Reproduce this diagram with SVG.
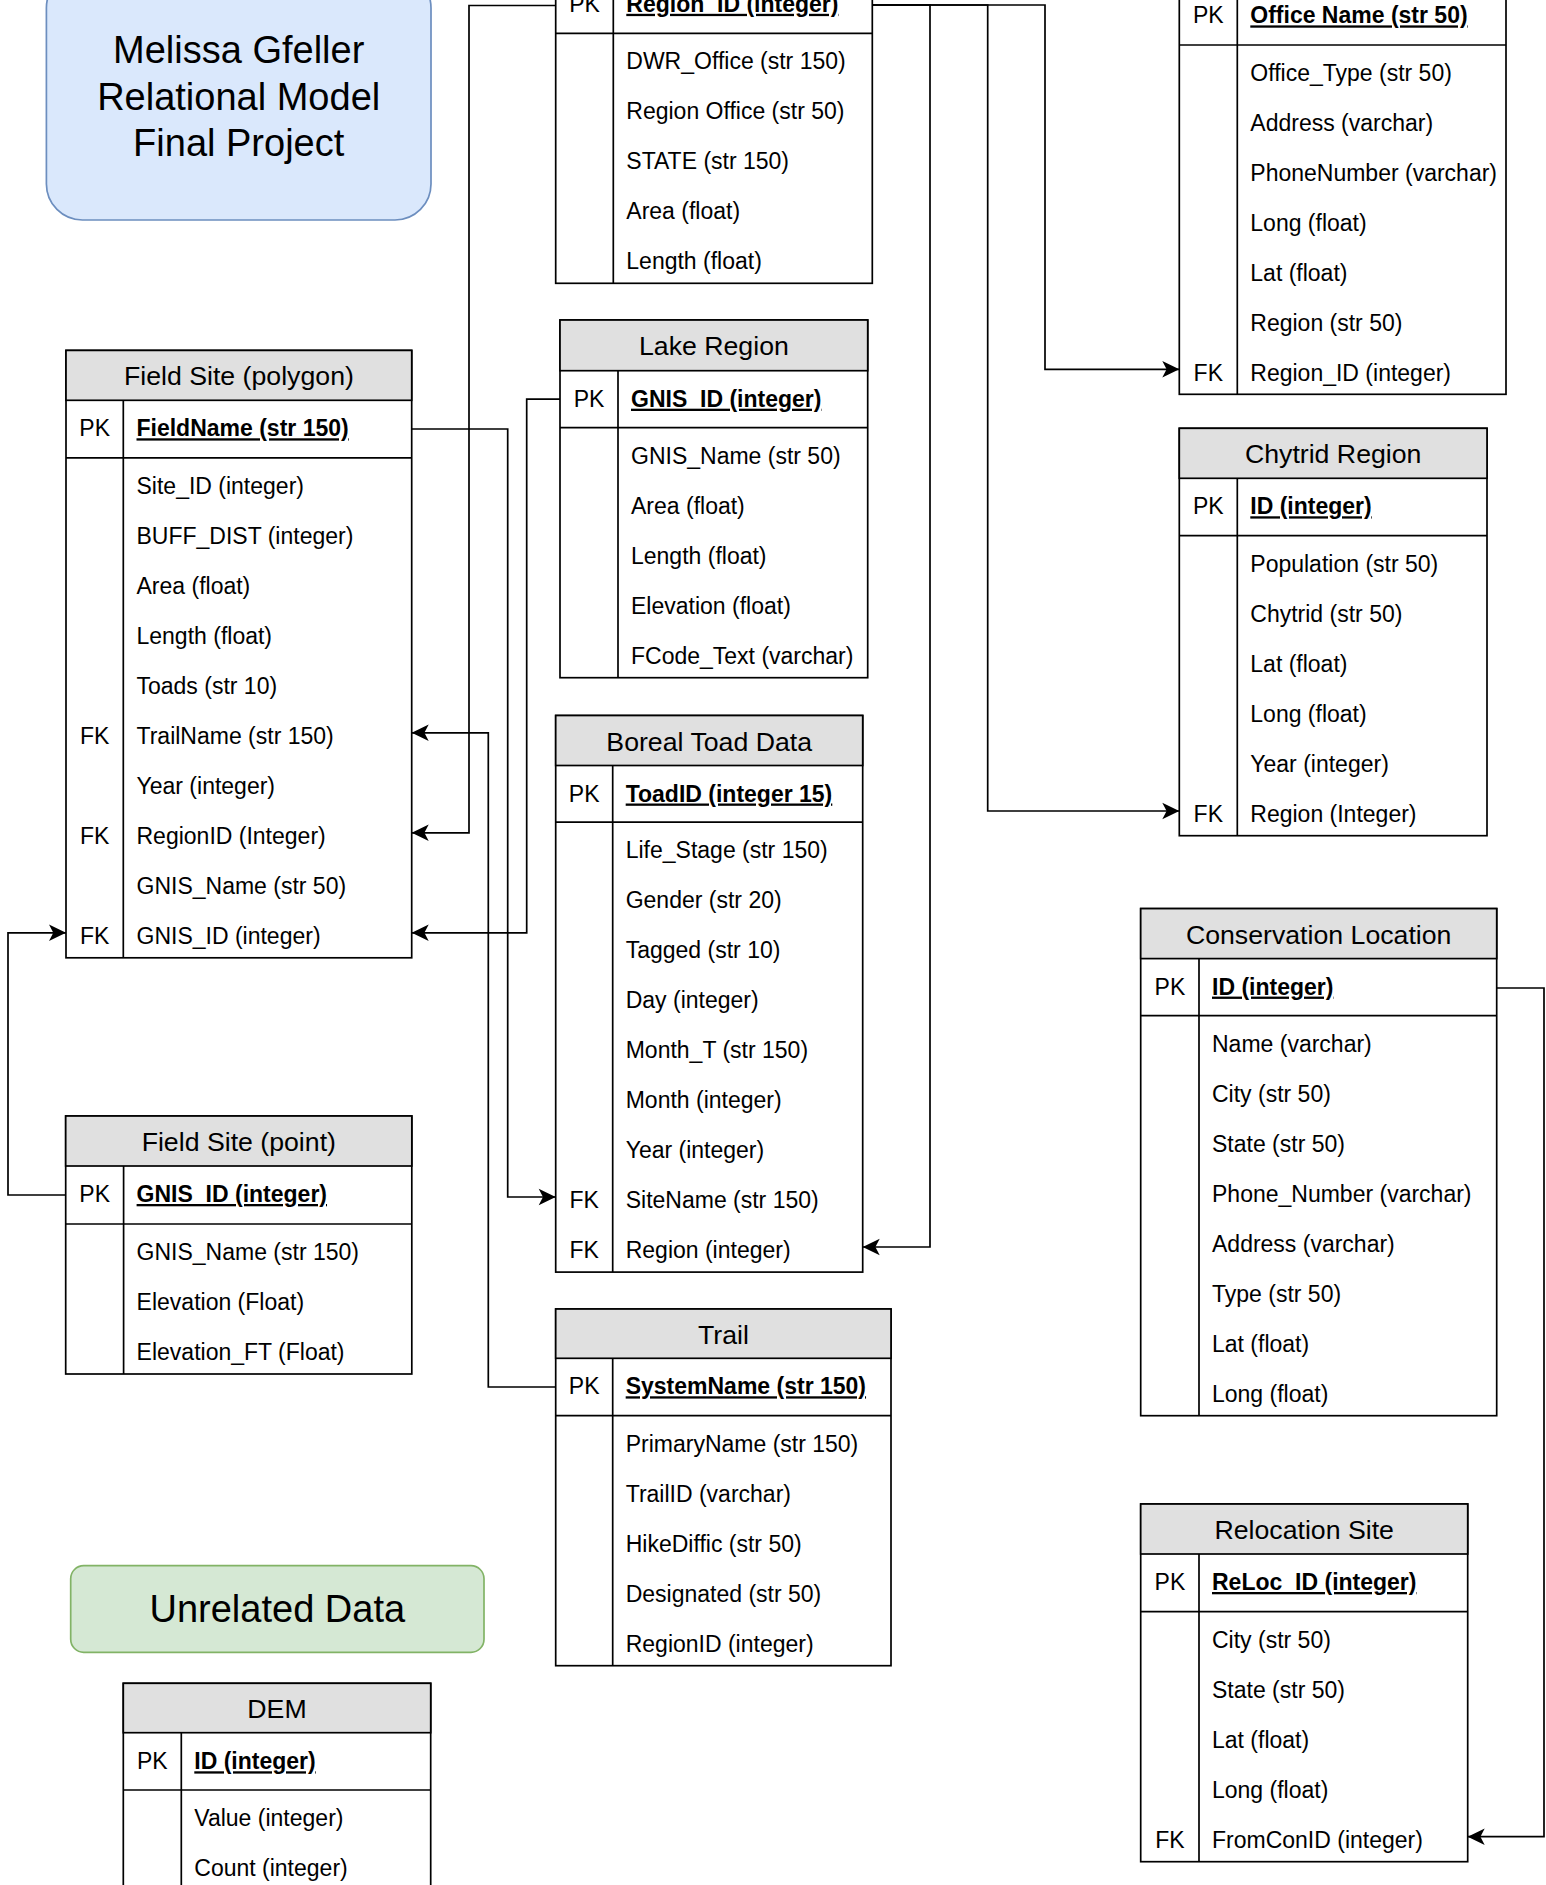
<svg xmlns="http://www.w3.org/2000/svg" width="1546" height="1885" viewBox="0 0 1546 1885">
<style>
text{font-family:"Liberation Sans",Arial,Helvetica,sans-serif;font-size:23px;fill:#000}
.h{font-size:26.7px;text-anchor:middle}
.big{font-size:38px;text-anchor:middle}
.pk{font-weight:bold;text-decoration:underline}
.k{text-anchor:middle}
.box{fill:#fff;stroke:#000;stroke-width:1.7}
.hd{fill:#e0e0e0;stroke:#000;stroke-width:1.7}
.ln{stroke:#000;stroke-width:1.7;fill:none}
.c{fill:none;stroke:#000;stroke-width:1.7;marker-end:url(#arr)}
</style>
<defs>
<marker id="arr" markerUnits="userSpaceOnUse" viewBox="-18 -10 20 20" refX="0" refY="0" markerWidth="20" markerHeight="20" orient="auto">
<path d="M0,0 L-17,-8.3 L-12.7,0 L-17,8.3 Z" fill="#000"/>
</marker>
</defs>

<g id="title">
<rect x="46.4" y="-28" width="384.6" height="248" rx="36" fill="#dae8fc" stroke="#6c8ebf" stroke-width="1.7"/>
<text class="big" x="238.7" y="63.3">Melissa Gfeller</text>
<text class="big" x="238.7" y="110">Relational Model</text>
<text class="big" x="238.7" y="156">Final Project</text>
</g>

<g id="unrelated">
<rect x="70.7" y="1565.7" width="413.3" height="86.6" rx="13" fill="#d5e8d4" stroke="#82b366" stroke-width="1.7"/>
<text class="big" x="277.3" y="1621.7">Unrelated Data</text>
</g>

<g id="connectors">
<path class="c" d="M555.7,5.5 H469 V832.8 H411.7"/>
<path class="c" d="M872.3,5 H1045 V369.3 H1179.3"/>
<path class="c" d="M872.3,5 H987.7 V811 H1179.3"/>
<path class="c" d="M872.3,5 H930 V1247 H862.7"/>
<path class="c" d="M560,399.2 H526.7 V932.8 H411.7"/>
<path class="c" d="M65.7,1195 H8 V932.8 H66"/>
<path class="c" d="M411.7,429 H507.7 V1197 H555.7"/>
<path class="c" d="M555.7,1387 H488.3 V732.8 H411.7"/>
<path class="c" d="M1496.7,988 H1544 V1836.7 H1467.7"/>
</g>

<g id="region">
<rect class="box" x="555.7" y="-74.2" width="316.6" height="357.5"/>
<rect class="hd" x="555.7" y="-74.2" width="316.6" height="50"/>
<line class="ln" x1="555.7" y1="33.3" x2="872.3" y2="33.3"/>
<line class="ln" x1="613.3" y1="-24.2" x2="613.3" y2="283.3"/>
<text class="k" x="584.5" y="11.8">PK</text>
<text class="pk" x="626.3" y="11.8">Region_ID (integer)</text>
<text x="626.3" y="69.3">DWR_Office (str 150)</text>
<text x="626.3" y="119.3">Region Office (str 50)</text>
<text x="626.3" y="169.3">STATE (str 150)</text>
<text x="626.3" y="219.3">Area (float)</text>
<text x="626.3" y="269.3">Length (float)</text>
</g>

<g id="office">
<rect class="box" x="1179.3" y="-62.6" width="326.7" height="456.9"/>
<rect class="hd" x="1179.3" y="-62.6" width="326.7" height="50"/>
<line class="ln" x1="1179.3" y1="45" x2="1506" y2="45"/>
<line class="ln" x1="1237.3" y1="-12.6" x2="1237.3" y2="394.3"/>
<text class="k" x="1208.3" y="23.4">PK</text>
<text class="pk" x="1250.3" y="23.4">Office Name (str 50)</text>
<text x="1250.3" y="81">Office_Type (str 50)</text>
<text x="1250.3" y="131">Address (varchar)</text>
<text x="1250.3" y="181">PhoneNumber (varchar)</text>
<text x="1250.3" y="231">Long (float)</text>
<text x="1250.3" y="281">Lat (float)</text>
<text x="1250.3" y="331">Region (str 50)</text>
<text class="k" x="1208.3" y="381">FK</text>
<text x="1250.3" y="381">Region_ID (integer)</text>
</g>

<g id="fieldsite-polygon">
<rect class="box" x="66" y="350.4" width="345.7" height="607.4"/>
<rect class="hd" x="66" y="350.4" width="345.7" height="49.9"/>
<line class="ln" x1="66" y1="457.8" x2="411.7" y2="457.8"/>
<line class="ln" x1="123.3" y1="400.3" x2="123.3" y2="957.8"/>
<text class="h" x="238.9" y="385.4">Field Site (polygon)</text>
<text class="k" x="94.7" y="436.3">PK</text>
<text class="pk" x="136.5" y="436.3">FieldName (str 150)</text>
<text x="136.5" y="493.8">Site_ID (integer)</text>
<text x="136.5" y="543.8">BUFF_DIST (integer)</text>
<text x="136.5" y="593.8">Area (float)</text>
<text x="136.5" y="643.8">Length (float)</text>
<text x="136.5" y="693.8">Toads (str 10)</text>
<text class="k" x="94.7" y="743.8">FK</text>
<text x="136.5" y="743.8">TrailName (str 150)</text>
<text x="136.5" y="793.8">Year (integer)</text>
<text class="k" x="94.7" y="843.8">FK</text>
<text x="136.5" y="843.8">RegionID (Integer)</text>
<text x="136.5" y="893.8">GNIS_Name (str 50)</text>
<text class="k" x="94.7" y="943.8">FK</text>
<text x="136.5" y="943.8">GNIS_ID (integer)</text>
</g>

<g id="lake-region">
<rect class="box" x="560" y="320" width="307.7" height="357.7"/>
<rect class="hd" x="560" y="320" width="307.7" height="50.7"/>
<line class="ln" x1="560" y1="427.7" x2="867.7" y2="427.7"/>
<line class="ln" x1="618" y1="370.7" x2="618" y2="677.7"/>
<text class="h" x="713.9" y="355">Lake Region</text>
<text class="k" x="589" y="406.7">PK</text>
<text class="pk" x="631" y="406.7">GNIS_ID (integer)</text>
<text x="631" y="463.7">GNIS_Name (str 50)</text>
<text x="631" y="513.7">Area (float)</text>
<text x="631" y="563.7">Length (float)</text>
<text x="631" y="613.7">Elevation (float)</text>
<text x="631" y="663.7">FCode_Text (varchar)</text>
</g>

<g id="boreal-toad">
<rect class="box" x="555.7" y="715.5" width="307" height="556.6"/>
<rect class="hd" x="555.7" y="715.5" width="307" height="50"/>
<line class="ln" x1="555.7" y1="822.1" x2="862.7" y2="822.1"/>
<line class="ln" x1="612.7" y1="765.5" x2="612.7" y2="1272.1"/>
<text class="h" x="709.2" y="750.5">Boreal Toad Data</text>
<text class="k" x="584.2" y="801.5">PK</text>
<text class="pk" x="625.7" y="801.5">ToadID (integer 15)</text>
<text x="625.7" y="858.1">Life_Stage (str 150)</text>
<text x="625.7" y="908.1">Gender (str 20)</text>
<text x="625.7" y="958.1">Tagged (str 10)</text>
<text x="625.7" y="1008.1">Day (integer)</text>
<text x="625.7" y="1058.1">Month_T (str 150)</text>
<text x="625.7" y="1108.1">Month (integer)</text>
<text x="625.7" y="1158.1">Year (integer)</text>
<text class="k" x="584.2" y="1208.1">FK</text>
<text x="625.7" y="1208.1">SiteName (str 150)</text>
<text class="k" x="584.2" y="1258.1">FK</text>
<text x="625.7" y="1258.1">Region (integer)</text>
</g>

<g id="chytrid-region">
<rect class="box" x="1179.3" y="428.3" width="307.7" height="407.4"/>
<rect class="hd" x="1179.3" y="428.3" width="307.7" height="50"/>
<line class="ln" x1="1179.3" y1="535.7" x2="1487" y2="535.7"/>
<line class="ln" x1="1237.3" y1="478.3" x2="1237.3" y2="835.7"/>
<text class="h" x="1333.2" y="463.3">Chytrid Region</text>
<text class="k" x="1208.3" y="514.3">PK</text>
<text class="pk" x="1250.3" y="514.3">ID (integer)</text>
<text x="1250.3" y="571.7">Population (str 50)</text>
<text x="1250.3" y="621.7">Chytrid (str 50)</text>
<text x="1250.3" y="671.7">Lat (float)</text>
<text x="1250.3" y="721.7">Long (float)</text>
<text x="1250.3" y="771.7">Year (integer)</text>
<text class="k" x="1208.3" y="821.7">FK</text>
<text x="1250.3" y="821.7">Region (Integer)</text>
</g>

<g id="conservation-location">
<rect class="box" x="1140.7" y="908.6" width="356" height="507.1"/>
<rect class="hd" x="1140.7" y="908.6" width="356" height="50"/>
<line class="ln" x1="1140.7" y1="1015.7" x2="1496.7" y2="1015.7"/>
<line class="ln" x1="1199" y1="958.6" x2="1199" y2="1415.7"/>
<text class="h" x="1318.7" y="943.6">Conservation Location</text>
<text class="k" x="1169.9" y="994.6">PK</text>
<text class="pk" x="1212" y="994.6">ID (integer)</text>
<text x="1212" y="1051.7">Name (varchar)</text>
<text x="1212" y="1101.7">City (str 50)</text>
<text x="1212" y="1151.7">State (str 50)</text>
<text x="1212" y="1201.7">Phone_Number (varchar)</text>
<text x="1212" y="1251.7">Address (varchar)</text>
<text x="1212" y="1301.7">Type (str 50)</text>
<text x="1212" y="1351.7">Lat (float)</text>
<text x="1212" y="1401.7">Long (float)</text>
</g>

<g id="fieldsite-point">
<rect class="box" x="65.7" y="1116" width="346.1" height="258"/>
<rect class="hd" x="65.7" y="1116" width="346.1" height="50"/>
<line class="ln" x1="65.7" y1="1224" x2="411.8" y2="1224"/>
<line class="ln" x1="123.6" y1="1166" x2="123.6" y2="1374"/>
<text class="h" x="238.8" y="1151">Field Site (point)</text>
<text class="k" x="94.7" y="1202">PK</text>
<text class="pk" x="136.6" y="1202">GNIS_ID (integer)</text>
<text x="136.6" y="1260">GNIS_Name (str 150)</text>
<text x="136.6" y="1310">Elevation (Float)</text>
<text x="136.6" y="1360">Elevation_FT (Float)</text>
</g>

<g id="trail">
<rect class="box" x="555.7" y="1309" width="335.3" height="356.7"/>
<rect class="hd" x="555.7" y="1309" width="335.3" height="49.3"/>
<line class="ln" x1="555.7" y1="1415.7" x2="891" y2="1415.7"/>
<line class="ln" x1="612.7" y1="1358.3" x2="612.7" y2="1665.7"/>
<text class="h" x="723.4" y="1344">Trail</text>
<text class="k" x="584.2" y="1394.3">PK</text>
<text class="pk" x="625.7" y="1394.3">SystemName (str 150)</text>
<text x="625.7" y="1451.7">PrimaryName (str 150)</text>
<text x="625.7" y="1501.7">TrailID (varchar)</text>
<text x="625.7" y="1551.7">HikeDiffic (str 50)</text>
<text x="625.7" y="1601.7">Designated (str 50)</text>
<text x="625.7" y="1651.7">RegionID (integer)</text>
</g>

<g id="relocation-site">
<rect class="box" x="1140.7" y="1504" width="327" height="357.7"/>
<rect class="hd" x="1140.7" y="1504" width="327" height="50"/>
<line class="ln" x1="1140.7" y1="1611.7" x2="1467.7" y2="1611.7"/>
<line class="ln" x1="1199" y1="1554" x2="1199" y2="1861.7"/>
<text class="h" x="1304.2" y="1539">Relocation Site</text>
<text class="k" x="1169.9" y="1590">PK</text>
<text class="pk" x="1212" y="1590">ReLoc_ID (integer)</text>
<text x="1212" y="1647.7">City (str 50)</text>
<text x="1212" y="1697.7">State (str 50)</text>
<text x="1212" y="1747.7">Lat (float)</text>
<text x="1212" y="1797.7">Long (float)</text>
<text class="k" x="1169.9" y="1847.7">FK</text>
<text x="1212" y="1847.7">FromConID (integer)</text>
</g>

<g id="dem">
<rect class="box" x="123.3" y="1683.3" width="307.4" height="220"/>
<rect class="hd" x="123.3" y="1683.3" width="307.4" height="49.4"/>
<line class="ln" x1="123.3" y1="1790" x2="430.7" y2="1790"/>
<line class="ln" x1="181.3" y1="1732.7" x2="181.3" y2="1903.3"/>
<text class="h" x="277" y="1718.3">DEM</text>
<text class="k" x="152.3" y="1769.3">PK</text>
<text class="pk" x="194.3" y="1769.3">ID (integer)</text>
<text x="194.3" y="1826">Value (integer)</text>
<text x="194.3" y="1876">Count (integer)</text>
</g>
</svg>
